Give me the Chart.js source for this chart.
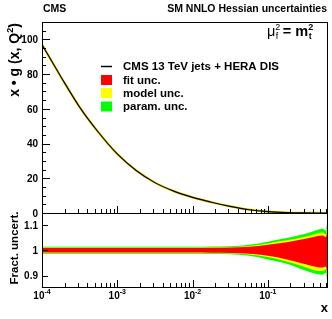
<!DOCTYPE html>
<html>
<head>
<meta charset="utf-8">
<script src="https://cdn.jsdelivr.net/npm/chart.js@4.4.0/dist/chart.umd.min.js"></script>
<style>
    html, body { margin: 0; padding: 0; background: #fff; }
    #wrap { position: relative; width: 332px; height: 319px; }
    canvas { position: absolute; left: 0; top: 0; }
</style>
</head>
<body>
<div id="wrap">
    <canvas id="ratioChart" width="332" height="319"></canvas>
    <canvas id="mainChart" width="332" height="319"></canvas>
</div>
<script>
// x grid (log steps of 0.25 decades, denser near the end)
const xValues = [1e-4, 1.78e-4, 3.16e-4, 5.62e-4, 1e-3, 1.78e-3, 3.16e-3, 5.62e-3, 1e-2, 1.78e-2,
                 3.16e-2, 5.62e-2, 0.1, 0.178, 0.316, 0.447, 0.537, 0.589, 0.63];
// x * g(x, Q^2)
const gluon = [97, 78.5, 61, 46.5, 34, 24.5, 17.5, 12.6, 9, 6.2, 3.8, 1.9, 0.8, 0.25, 0.06, 0.02, 0.01, 0.005, 0.003];

// fractional uncertainty bands (upper / lower edges)
const fitUp     = [1.009, 1.009, 1.009, 1.009, 1.009, 1.009, 1.009, 1.009, 1.009, 1.010, 1.011, 1.014, 1.022, 1.032, 1.045, 1.055, 1.058, 1.052, 1.10];
const fitDown   = [0.991, 0.991, 0.991, 0.991, 0.991, 0.991, 0.991, 0.991, 0.991, 0.990, 0.989, 0.986, 0.978, 0.964, 0.945, 0.934, 0.932, 0.936, 0.88];
const modelUp   = [1.011, 1.011, 1.011, 1.011, 1.011, 1.011, 1.011, 1.011, 1.011, 1.012, 1.013, 1.017, 1.027, 1.039, 1.053, 1.066, 1.070, 1.062, 1.12];
const modelDown = [0.989, 0.989, 0.989, 0.989, 0.989, 0.989, 0.989, 0.989, 0.989, 0.988, 0.987, 0.983, 0.973, 0.956, 0.933, 0.919, 0.918, 0.924, 0.86];
const paramUp   = [1.014, 1.014, 1.014, 1.014, 1.014, 1.014, 1.014, 1.014, 1.014, 1.015, 1.016, 1.022, 1.034, 1.048, 1.065, 1.080, 1.085, 1.078, 1.15];
const paramDown = [0.986, 0.986, 0.986, 0.986, 0.986, 0.986, 0.986, 0.986, 0.986, 0.985, 0.984, 0.978, 0.964, 0.947, 0.920, 0.906, 0.904, 0.910, 0.85];

const yTicksMain = [0, 20, 40, 60, 80, 100];
const yTicksRatio = [0.9, 1, 1.1];
const xDecades = [-4, -3, -2, -1];

const X_MIN = 1e-4, X_MAX = 0.63;
const FONT = '"Liberation Sans", Arial, sans-serif';
const RED = '#ff0000', YELLOW = '#ffff00', GREEN = '#00ff00';

const pts = (arr) => arr.map((v, i) => ({ x: xValues[i], y: v }));

function xTickList() {
    const list = [];
    xDecades.forEach(d => {
        for (let k = 1; k <= 9; k++) {
            const v = k * Math.pow(10, d);
            if (v <= X_MAX) list.push({ v, major: k === 1 });
        }
    });
    return list;
}

// ROOT-like frame, inside ticks and labels
const rootFrame = {
    id: 'rootFrame',
    afterDraw(chart, args, opts) {
        const { ctx, chartArea: a, scales: { x, y } } = chart;
        ctx.save();
        ctx.strokeStyle = '#000';
        ctx.lineWidth = 1;
        ctx.strokeRect(a.left + 0.5, a.top + 0.5, a.right - a.left - 1, a.bottom - a.top);

        // x ticks on bottom edge, pointing up
        ctx.beginPath();
        xTickList().forEach(t => {
            const px = Math.round(x.getPixelForValue(t.v)) + 0.5;
            const len = t.major ? opts.xMajor : opts.xMinor;
            ctx.moveTo(px, a.bottom);
            ctx.lineTo(px, a.bottom - len);
        });
        // y ticks on left edge, pointing right
        opts.yMajorTicks.forEach(v => {
            const py = Math.round(y.getPixelForValue(v)) + 0.5;
            ctx.moveTo(a.left, py);
            ctx.lineTo(a.left + opts.yMajor, py);
        });
        (opts.yMinorTicks || []).forEach(v => {
            const py = Math.round(y.getPixelForValue(v)) + 0.5;
            ctx.moveTo(a.left, py);
            ctx.lineTo(a.left + opts.yMinor, py);
        });
        ctx.stroke();

        // y labels
        ctx.fillStyle = '#000';
        ctx.font = 'bold 10px ' + FONT;
        ctx.textAlign = 'right';
        ctx.textBaseline = 'middle';
        opts.yMajorTicks.forEach(v => {
            ctx.fillText(String(v), 38, y.getPixelForValue(v) + 1);
        });

        if (opts.xLabels) {
            xDecades.forEach(d => {
                const px = x.getPixelForValue(Math.pow(10, d));
                ctx.font = 'bold 10px ' + FONT;
                const w1 = ctx.measureText('10').width;
                ctx.font = 'bold 7px ' + FONT;
                const w2 = ctx.measureText(String(d)).width;
                const start = px - (w1 + w2) / 2;
                ctx.textAlign = 'left';
                ctx.textBaseline = 'alphabetic';
                ctx.font = 'bold 10px ' + FONT;
                ctx.fillText('10', start, 299);
                ctx.font = 'bold 7px ' + FONT;
                ctx.fillText(String(d), start + w1, 294);
            });
            ctx.font = 'bold 13px ' + FONT;
            ctx.textAlign = 'right';
            ctx.fillText('x', 328, 312);
        }
        opts.extra && opts.extra(ctx, a);
        ctx.restore();
    }
};

function drawMainText(ctx) {
    ctx.fillStyle = '#000';
    ctx.textBaseline = 'alphabetic';
    ctx.font = 'bold 10.5px ' + FONT;
    ctx.textAlign = 'left';
    ctx.fillText('CMS', 43, 12);
    ctx.textAlign = 'right';
    ctx.fillText('SM NNLO Hessian uncertainties', 327, 12);

    // scale label
    let cx = 267;
    const base = 36;
    ctx.textAlign = 'left';
    ctx.font = '14.5px ' + FONT;
    ctx.fillText('\u03bc', cx, base);
    cx += ctx.measureText('\u03bc').width;
    ctx.font = '9px ' + FONT;
    ctx.fillText('f', cx + 0.5, base + 3);
    ctx.fillText('2', cx, base - 6.5);
    cx += ctx.measureText('2').width + 2.5;
    ctx.font = 'bold 14.5px ' + FONT;
    ctx.fillText('= m', cx, base);
    cx += ctx.measureText('= m').width;
    ctx.font = 'bold 9px ' + FONT;
    ctx.fillText('t', cx + 0.5, base + 3);
    ctx.fillText('2', cx, base - 6.5);

    // legend
    const rows = [
        { label: 'CMS 13 TeV jets + HERA DIS', line: true, y: 66.5 },
        { label: 'fit unc.', color: RED, y: 80 },
        { label: 'model unc.', color: YELLOW, y: 93 },
        { label: 'param. unc.', color: GREEN, y: 106.5 }
    ];
    ctx.font = 'bold 11.5px ' + FONT;
    ctx.textBaseline = 'middle';
    rows.forEach(r => {
        if (r.line) {
            ctx.strokeStyle = '#000';
            ctx.lineWidth = 1.5;
            ctx.beginPath();
            ctx.moveTo(101, r.y);
            ctx.lineTo(112, r.y);
            ctx.stroke();
        } else {
            ctx.fillStyle = r.color;
            ctx.fillRect(101, r.y - 5, 11, 10);
        }
        ctx.fillStyle = '#000';
        ctx.fillText(r.label, 123, r.y + 0.5);
    });

    // y title
    ctx.save();
    ctx.translate(19, 60);
    ctx.rotate(-Math.PI / 2);
    ctx.textBaseline = 'alphabetic';
    ctx.font = 'bold 14px ' + FONT;
    const t1 = 'x \u2022 g (x, Q';
    const w1 = ctx.measureText(t1).width;
    ctx.font = 'bold 9px ' + FONT;
    const w2 = ctx.measureText('2').width;
    ctx.font = 'bold 14px ' + FONT;
    const w3 = ctx.measureText(')').width;
    const s = -(w1 + w2 + w3) / 2;
    ctx.textAlign = 'left';
    ctx.fillText(t1, s, 0);
    ctx.font = 'bold 9px ' + FONT;
    ctx.fillText('2', s + w1, -6);
    ctx.font = 'bold 14px ' + FONT;
    ctx.fillText(')', s + w1 + w2, 0);
    ctx.restore();
}

function drawRatioText(ctx) {
    ctx.save();
    ctx.translate(18, 248);
    ctx.rotate(-Math.PI / 2);
    ctx.textAlign = 'center';
    ctx.textBaseline = 'alphabetic';
    ctx.fillStyle = '#000';
    ctx.font = 'bold 11.5px ' + FONT;
    ctx.fillText('Fract. uncert.', 0, 0);
    ctx.restore();
}

const xScale = { type: 'logarithmic', min: X_MIN, max: X_MAX, display: false };

new Chart(document.getElementById('mainChart'), {
    type: 'line',
    data: {
        datasets: [
            { data: pts(gluon), borderColor: '#000', borderWidth: 1.1, pointRadius: 0, cubicInterpolationMode: 'monotone', order: 1 },
            { data: pts(gluon), borderColor: '#e0c800', borderWidth: 2.2, pointRadius: 0, cubicInterpolationMode: 'monotone', order: 2 }
        ]
    },
    options: {
        responsive: false,
        animation: false,
        layout: { padding: { left: 42, top: 22, right: 4, bottom: 106 } },
        scales: { x: xScale, y: { min: 0, max: 110, display: false } },
        plugins: {
            legend: { display: false },
            tooltip: { enabled: false },
            rootFrame: {
                xMajor: 7, xMinor: 4, yMajor: 8, yMinor: 4,
                yMajorTicks: yTicksMain,
                yMinorTicks: [5, 10, 15, 25, 30, 35, 45, 50, 55, 65, 70, 75, 85, 90, 95, 105],
                xLabels: false,
                extra: drawMainText
            }
        }
    },
    plugins: [rootFrame]
});

const band = (arr, color, fill, order) => ({
    data: pts(arr), borderWidth: 0, pointRadius: 0, backgroundColor: color,
    fill, order, cubicInterpolationMode: 'monotone'
});

new Chart(document.getElementById('ratioChart'), {
    type: 'line',
    data: {
        datasets: [
            band(paramUp, GREEN, false, 6),
            band(paramDown, GREEN, '-1', 5),
            band(modelUp, YELLOW, false, 4),
            band(modelDown, YELLOW, '-1', 3),
            band(fitUp, RED, false, 2),
            band(fitDown, RED, '-1', 1)
        ]
    },
    options: {
        responsive: false,
        animation: false,
        layout: { padding: { left: 42, top: 213, right: 4, bottom: 32 } },
        scales: { x: xScale, y: { min: 0.855, max: 1.147, display: false } },
        plugins: {
            legend: { display: false },
            tooltip: { enabled: false },
            filler: { propagate: false },
            rootFrame: {
                xMajor: 7, xMinor: 4, yMajor: 6, yMinor: 3,
                yMajorTicks: yTicksRatio,
                xLabels: true,
                extra: drawRatioText
            }
        }
    },
    plugins: [rootFrame]
});
</script>
</body>
</html>
